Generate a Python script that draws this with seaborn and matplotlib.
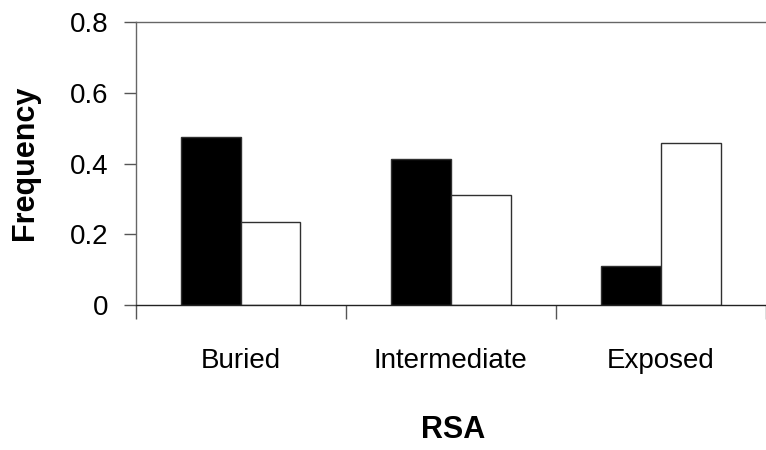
import matplotlib
matplotlib.use("Agg")
import matplotlib.pyplot as plt
import seaborn as sns
import pandas as pd

categories = ["Buried", "Intermediate", "Exposed"]
series_names = ["Set A", "Set B"]
values_a = [0.475, 0.413, 0.110]
values_b = [0.235, 0.311, 0.458]
yticks = [0, 0.2, 0.4, 0.6, 0.8]
ytick_labels = ["0", "0.2", "0.4", "0.6", "0.8"]

df = pd.DataFrame({
    "RSA": categories * 2,
    "series": [series_names[0]] * 3 + [series_names[1]] * 3,
    "Frequency": values_a + values_b,
})

sns.set_theme(style="white")
plt.rcParams['font.family'] = ['Liberation Sans', 'DejaVu Sans']
plt.rcParams['text.color'] = 'black'
plt.rcParams['xtick.color'] = 'black'
plt.rcParams['ytick.color'] = 'black'

fig = plt.figure(figsize=(7.66, 4.5), dpi=100)
ax = fig.add_axes([135.5/766, 1-305/450, 1-135.5/766, (305-22)/450])

sns.barplot(data=df, x="RSA", y="Frequency", hue="series",
            palette=["black", "white"], order=categories,
            width=0.57, edgecolor="#303030", linewidth=1.0, ax=ax,
            legend=False, gap=0)

ax.set_xlim(-0.5, -0.5 + (766 - 135.5) / 212)
ax.set_ylim(0, 0.8)
ax.set_yticks(yticks)
ax.set_yticklabels(ytick_labels, fontsize=20)
ax.tick_params(axis="y", direction="out", length=9, width=1, color="#555555",
               pad=10.5, left=True, labelcolor="black")

ax.set_xticks(range(len(categories)))
ax.set_xticklabels(categories, fontsize=20)
ax.tick_params(axis="x", which="major", length=0, pad=31, labelcolor="black")
ax.set_xticks([-0.5, 0.5, 1.5, 2.5], minor=True)
ax.tick_params(axis="x", which="minor", direction="out", length=10, width=1,
               color="#555555", bottom=True)

for s in ["left", "top", "bottom"]:
    ax.spines[s].set_visible(True)
    ax.spines[s].set_linewidth(1.0)
ax.spines["left"].set_color("#666666")
ax.spines["top"].set_color("#666666")
ax.spines["bottom"].set_color("#222222")
ax.spines["right"].set_visible(False)

ax.set_xlabel("")
ax.set_ylabel("")
fig.text(453/766, 1 - 438/450, "RSA", fontsize=22, fontweight="bold",
         ha="center", va="baseline", color="black")
fig.text(25.5/766, 1 - 162.5/450, "Frequency", fontsize=22, fontweight="bold",
         ha="center", va="center", rotation=90, color="black")

fig.savefig("out.png", dpi=100, facecolor="white")
